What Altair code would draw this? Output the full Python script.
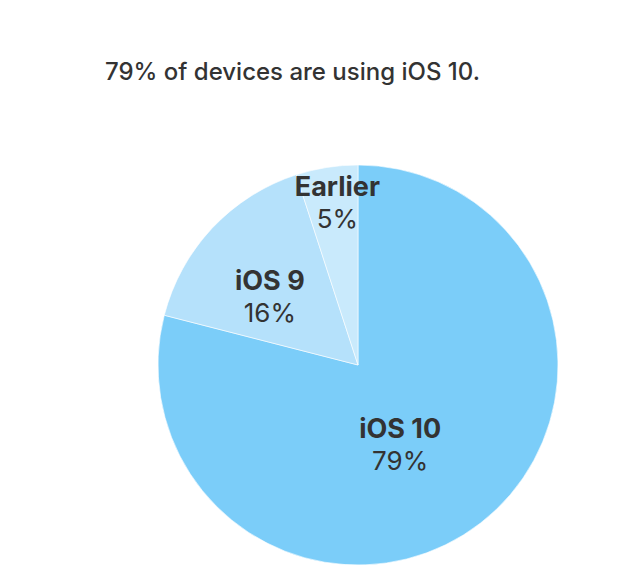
import altair as alt
import pandas as pd
import math

categories = ["iOS 10", "iOS 9", "Earlier"]
shares = [79, 16, 5]
pct_labels = ["79%", "16%", "5%"]
colors = ["#7BCDF9", "#B5E1FB", "#C9EAFC"]
title_text = "79% of devices are using iOS 10."

df = pd.DataFrame({"cat": categories, "share": shares, "pct": pct_labels, "order": list(range(len(categories)))})

CX, CY, R = 350, 357, 200
theta_scale = alt.Scale(domain=[0, 100], range=[0, 2 * math.pi])

base = (
    alt.Chart(df)
    .transform_window(cum="sum(share)", sort=[alt.SortField("order")], frame=[None, 0])
    .transform_calculate(start="datum.cum - datum.share", mid="datum.cum - datum.share / 2")
)

pie = base.mark_arc(outerRadius=R, stroke="#ffffff", strokeWidth=0.6).encode(
    theta=alt.Theta("start:Q", stack=False, scale=theta_scale),
    theta2="cum:Q",
    color=alt.Color("cat:N", scale=alt.Scale(domain=categories, range=colors), legend=None),
    x=alt.value(CX),
    y=alt.value(CY),
)

label_cfg = {"iOS 10": (90, -13, 10), "iOS 9": (110, -8, 8), "Earlier": (164, 5, 1)}
layers = [pie]
for c in categories:
    r, adx, ady = label_cfg[c]
    sub = base.transform_filter(alt.datum.cat == c)
    enc = dict(
        theta=alt.Theta("mid:Q", stack=False, scale=theta_scale),
        x=alt.value(CX),
        y=alt.value(CY),
    )
    layers.append(
        sub.mark_text(radius=r, dx=adx, dy=ady - 16, font="Inter", fontSize=27,
                      fontWeight="bold", color="#333333").encode(text="cat:N", **enc)
    )
    layers.append(
        sub.mark_text(radius=r, dx=adx, dy=ady + 16, font="Inter", fontSize=26,
                      fontWeight="normal", color="#333333").encode(text="pct:N", **enc)
    )

title = alt.Chart(pd.DataFrame({"t": [title_text]})).mark_text(
    align="left", baseline="alphabetic", font="Inter", fontSize=24, fontWeight=500, color="#333333"
).encode(text="t:N", x=alt.value(97), y=alt.value(72))
layers.append(title)

chart = (
    alt.layer(*layers)
    .properties(width=627, height=557, padding=0, autosize=alt.AutoSizeParams(type="none"))
    .configure_view(stroke=None)
    .resolve_scale(theta="shared")
)

chart.save("out.html", embed_options={"renderer": "svg", "actions": False})
